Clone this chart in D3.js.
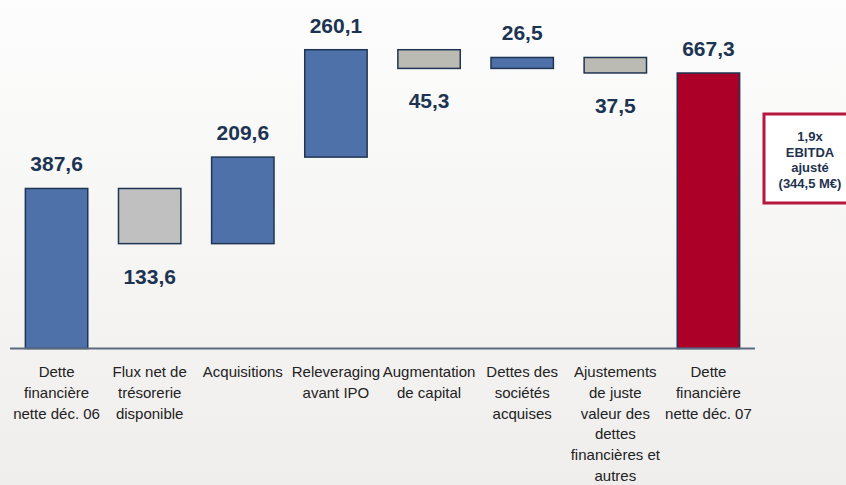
<!DOCTYPE html>
<html>
<head>
<meta charset="utf-8">
<script src="https://cdn.jsdelivr.net/npm/d3@7"></script>
<style>
  html, body { margin: 0; padding: 0; overflow: hidden; }
  body { font-family: "Liberation Sans", Arial, sans-serif; }
</style>
</head>
<body>
<script>
const width = 846;
const height = 485;

// data
const categories = [
    'Dette\nfinancière\nnette déc. 06',
    'Flux net de\ntrésorerie\ndisponible',
    'Acquisitions',
    'Releveraging\navant IPO',
    'Augmentation\nde capital',
    'Dettes des\nsociétés\nacquises',
    'Ajustements\nde juste\nvaleur des\ndettes\nfinancières et\nautres',
    'Dette\nfinancière\nnette déc. 07'
];
const values = [387.6, -133.6, 209.6, 260.1, -45.3, 26.5, -37.5, 667.3];
const kinds = ['start', 'down', 'up', 'up', 'down', 'up', 'down', 'total'];
const valueLabels = ['387,6', '133,6', '209,6', '260,1', '45,3', '26,5', '37,5', '667,3'];
const noteLines = ['1,9x', 'EBITDA', 'ajusté', '(344,5 M€)'];

// running totals for the waterfall
let running = 0;
let steps = values.map((v, i) => {
    let lo, hi;
    if (kinds[i] === 'start' || kinds[i] === 'total') {
        lo = 0; hi = v; running = v;
    } else {
        let next = running + v;
        lo = Math.min(running, next); hi = Math.max(running, next);
        running = next;
    }
    return { cat: categories[i], kind: kinds[i], lo: lo, hi: hi, label: valueLabels[i] };
});

const colors = {
    start: '#4f71a9',
    up: '#4f71a9',
    down: '#bcbbb3',
    total: '#ad0029'
};

let svg = d3.select('body')
    .append('svg')
    .attr('width', width)
    .attr('height', height);

let grad = svg.append('defs').append('linearGradient')
    .attr('id', 'bg')
    .attr('x1', 0).attr('y1', 0).attr('x2', 0).attr('y2', 1);
grad.append('stop').attr('offset', '0%').attr('stop-color', '#fdfdfd');
grad.append('stop').attr('offset', '100%').attr('stop-color', '#efeeec');

svg.append('rect')
    .attr('width', width)
    .attr('height', height)
    .attr('fill', 'url(#bg)');

let xScale = d3.scaleBand()
    .domain(categories)
    .range([10, 755])
    .paddingInner(0.33)
    .paddingOuter(0.165);

let yScale = d3.scaleLinear()
    .domain([0, 700])
    .range([348.5, 59.5]);

let bars = svg.append('g').classed('bars', true);

bars.selectAll('rect')
    .data(steps)
    .enter()
    .append('rect')
    .attr('x', d => xScale(d.cat))
    .attr('width', xScale.bandwidth())
    .attr('y', d => yScale(d.hi))
    .attr('height', d => yScale(d.lo) - yScale(d.hi))
    .attr('fill', (d, i) => i === 1 ? '#c0c0c0' : colors[d.kind])
    .attr('stroke', '#1f3553')
    .attr('stroke-width', 1.5);

// axis line
svg.append('line')
    .attr('x1', xScale.range()[0])
    .attr('x2', xScale.range()[1])
    .attr('y1', yScale(0))
    .attr('y2', yScale(0))
    .attr('stroke', '#5b6a80')
    .attr('stroke-width', 2);

// value labels
svg.append('g').selectAll('text')
    .data(steps)
    .enter()
    .append('text')
    .attr('x', d => xScale(d.cat) + xScale.bandwidth() / 2)
    .attr('y', d => d.kind === 'down' ? yScale(d.lo) + 40 : yScale(d.hi) - 17)
    .attr('text-anchor', 'middle')
    .attr('font-size', 21)
    .attr('font-weight', 'bold')
    .attr('fill', '#1c3452')
    .text(d => d.label);

// category labels
let catLabels = svg.append('g').selectAll('text')
    .data(categories)
    .enter()
    .append('text')
    .attr('text-anchor', 'middle')
    .attr('font-size', 15)
    .attr('fill', '#222');

catLabels.selectAll('tspan')
    .data(d => d.split('\n').map(line => ({ line: line, cat: d })))
    .enter()
    .append('tspan')
    .attr('x', d => xScale(d.cat) + xScale.bandwidth() / 2)
    .attr('y', (d, i) => 377 + i * 20.8)
    .text(d => d.line);

// EBITDA note box
svg.append('rect')
    .attr('x', 764)
    .attr('y', 114)
    .attr('width', 94)
    .attr('height', 89)
    .attr('fill', '#ffffff')
    .attr('stroke', '#b5173d')
    .attr('stroke-width', 3);

svg.append('g').selectAll('text')
    .data(noteLines)
    .enter()
    .append('text')
    .attr('x', 810)
    .attr('y', (d, i) => 141 + i * 15.5)
    .attr('text-anchor', 'middle')
    .attr('font-size', 13)
    .attr('font-weight', 'bold')
    .attr('fill', '#1f3350')
    .text(d => d);
</script>
</body>
</html>
